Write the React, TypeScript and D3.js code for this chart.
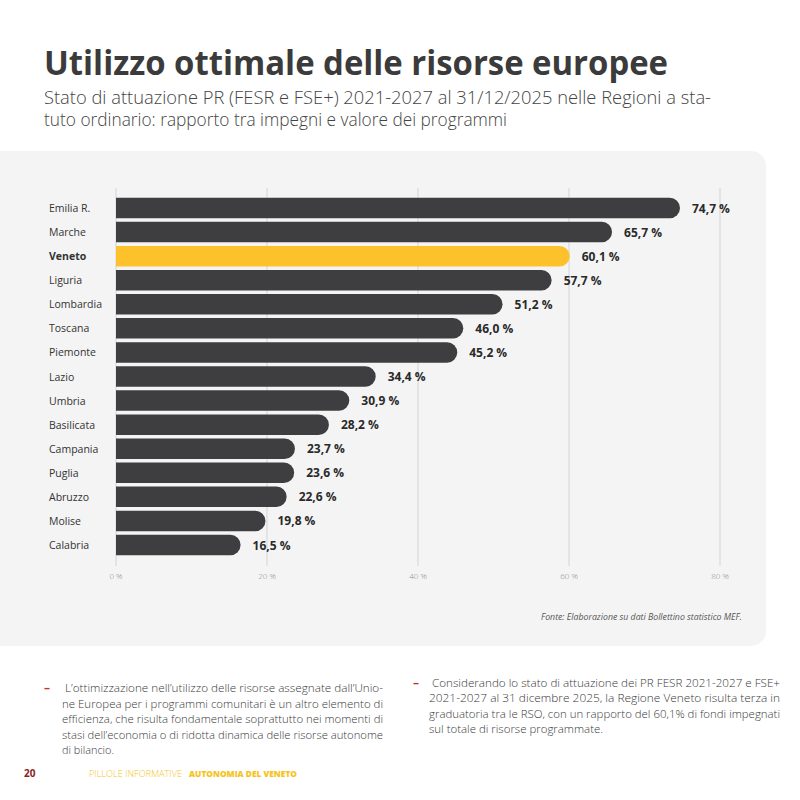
import React from "react";
import * as d3 from "d3";

const categories = ["Emilia R.", "Marche", "Veneto", "Liguria", "Lombardia", "Toscana", "Piemonte", "Lazio", "Umbria", "Basilicata", "Campania", "Puglia", "Abruzzo", "Molise", "Calabria"];
const values = [74.7, 65.7, 60.1, 57.7, 51.2, 46.0, 45.2, 34.4, 30.9, 28.2, 23.7, 23.6, 22.6, 19.8, 16.5];
const highlight = "Veneto";
const ticks = [0, 20, 40, 60, 80];

const title = "Utilizzo ottimale delle risorse europee";
const subtitleLines = [
  "Stato di attuazione PR (FESR e FSE+) 2021-2027 al 31/12/2025 nelle Regioni a sta-",
  "tuto ordinario: rapporto tra impegni e valore dei programmi",
];
const source = "Fonte: Elaborazione su dati Bollettino statistico MEF.";
const leftPara = [
  " L\u2019ottimizzazione nell\u2019utilizzo delle risorse assegnate dall\u2019Unio-",
  "ne Europea per i programmi comunitari è un altro elemento di",
  "efficienza, che risulta fondamentale soprattutto nei momenti di",
  "stasi dell\u2019economia o di ridotta dinamica delle risorse autonome",
  "di bilancio.",
];
const rightPara = [
  " Considerando lo stato di attuazione dei PR FESR 2021-2027 e FSE+",
  "2021-2027 al 31 dicembre 2025, la Regione Veneto risulta terza in",
  "graduatoria tra le RSO, con un rapporto del 60,1% di fondi impegnati",
  "sul totale di risorse programmate.",
];

const fmt = (v: number) => v.toFixed(1).replace(".", ",") + " %";

export default function App() {
  const x = d3.scaleLinear().domain([0, 80]).range([116, 720]);
  const y = d3.scalePoint<string>().domain(categories).range([208, 545]);
  const barH = 20.5;
  const font = "'Open Sans', 'Noto Sans', sans-serif";

  const barPath = (v: number, cy: number) => {
    const x0 = x(0);
    const x1 = x(v);
    const r = barH / 2;
    const top = cy - r;
    return `M${x0},${top}H${x1 - r}A${r},${r} 0 0 1 ${x1},${cy}A${r},${r} 0 0 1 ${x1 - r},${top + barH}H${x0}Z`;
  };

  return (
    <svg width={800} height={800} style={{ position: "absolute", left: 0, top: 0, background: "#fff" }} fontFamily={font}>
      <rect x={0} y={0} width={800} height={800} fill="#ffffff" />
      <text x={44} y={75} fontSize={34} fontWeight={700} fill="#3b3b3b" textLength={624} lengthAdjust="spacingAndGlyphs">{title}</text>
      {subtitleLines.map((l, i) => (
        <text key={i} x={44} y={104 + i * 22} fontSize={18} fontWeight={300} fill="#444" textLength={i === 0 ? 667 : 463} lengthAdjust="spacingAndGlyphs">{l}</text>
      ))}

      <path d="M-20,151H751A15,15 0 0 1 766,166V631A15,15 0 0 1 751,646H-20Z" fill="#f4f4f4" />

      {ticks.map((t) => (
        <g key={t}>
          <line x1={x(t)} x2={x(t)} y1={188} y2={566} stroke="#d4d4d4" strokeWidth={1} />
          <text x={x(t)} y={579} fontSize={8} fill="#8a8a8a" textAnchor="middle" fontWeight={300}>{t} %</text>
        </g>
      ))}

      {categories.map((c, i) => {
        const cy = y(c) as number;
        const v = values[i];
        const hl = c === highlight;
        return (
          <g key={c}>
            <path d={barPath(v, cy)} fill={hl ? "#fdc12c" : "#3e3e40"} />
            <text x={49} y={cy + 4} fontSize={10.5} fill="#333" fontWeight={hl ? 700 : 400}>{c}</text>
            <text x={x(v) + 12} y={cy + 4.5} fontSize={12} fontWeight={700} fill="#2a2a2a">{fmt(v)}</text>
          </g>
        );
      })}

      <text x={742} y={620} fontSize={9} fontStyle="italic" fill="#555" textAnchor="end" textLength={201} lengthAdjust="spacingAndGlyphs">{source}</text>

      <text x={44} y={692} fontSize={12} fill="#c0392b" fontWeight={700}>–</text>
      {leftPara.map((l, i) => {
        const last = i === leftPara.length - 1;
        return (
          <text key={i} x={62} y={692 + i * 15.5} fontSize={11.5} fontWeight={300} fill="#3a3a3a"
            textLength={last ? 52 : 321} lengthAdjust="spacingAndGlyphs" xmlSpace="preserve">{l}</text>
        );
      })}

      <text x={413} y={687} fontSize={12} fill="#c0392b" fontWeight={700}>–</text>
      {rightPara.map((l, i) => {
        const last = i === rightPara.length - 1;
        return (
          <text key={i} x={429} y={687 + i * 15.4} fontSize={11.5} fontWeight={300} fill="#3a3a3a"
            textLength={last ? 174 : 351} lengthAdjust="spacingAndGlyphs" xmlSpace="preserve">{l}</text>
        );
      })}

      <text x={24} y={777} fontSize={10} fontWeight={700} fill="#8b1c1c">20</text>
      <text x={89} y={777} fontSize={9} fontWeight={300} fill="#f5c31c" textLength={93} lengthAdjust="spacingAndGlyphs">PILLOLE INFORMATIVE</text>
      <text x={189} y={777} fontSize={9} fontWeight={800} fill="#f5c31c" textLength={108} lengthAdjust="spacingAndGlyphs">AUTONOMIA DEL VENETO</text>
    </svg>
  );
}
